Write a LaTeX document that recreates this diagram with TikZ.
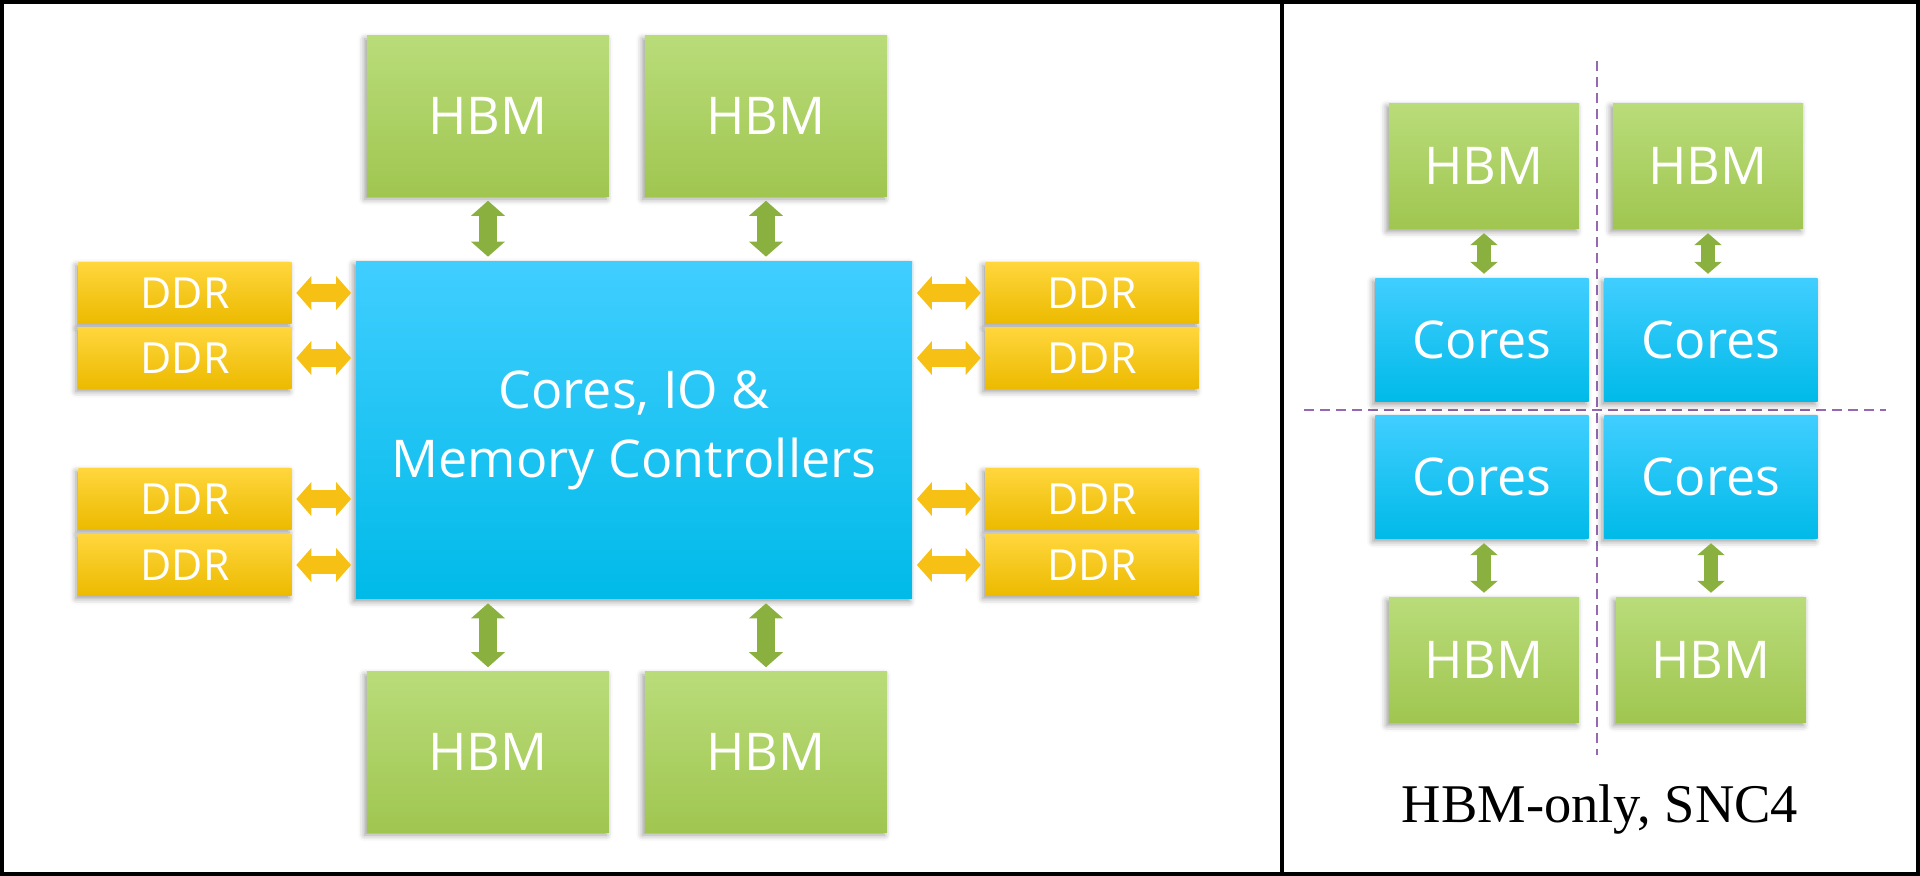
\documentclass[tikz,border=0pt]{standalone}
\usepackage{fontspec}
\setmainfont{Open Sans}
\newfontfamily\capfont{Liberation Serif}
\usetikzlibrary{arrows.meta,shadows.blur}
\definecolor{hbmtop}{HTML}{B9DC7A}\definecolor{hbmbot}{HTML}{A0C650}
\definecolor{coretop}{HTML}{40CEFF}\definecolor{corebot}{HTML}{00BAE8}
\definecolor{ddrtop}{HTML}{FFD63C}\definecolor{ddrbot}{HTML}{ECBA00}
\definecolor{agreen}{HTML}{8AB040}\definecolor{ayellow}{HTML}{F7C014}
\definecolor{sncline}{HTML}{9668B4}
\begin{document}
\begin{tikzpicture}[x=0.01cm,y=-0.01cm,
 box/.style={inner sep=0pt,text=white,align=center,font=\fontsize{14.8}{19.6}\selectfont,
  blur shadow={shadow xshift=-0.025cm,shadow yshift=-0.03cm,shadow blur radius=0.06cm,shadow opacity=40}},
 hbm/.style={box,top color=hbmtop,bottom color=hbmbot,minimum width=2.42cm,minimum height=1.6cm},
 shbm/.style={hbm,minimum width=1.9cm,minimum height=1.25cm},
 chip/.style={box,top color=coretop,bottom color=corebot,minimum width=5.56cm,minimum height=3.37cm},
 schip/.style={chip,minimum width=2.13cm,minimum height=1.23cm},
 ddr/.style={box,top color=ddrtop,bottom color=ddrbot,minimum width=2.13cm,minimum height=0.61cm,font=\fontsize{12.2}{14}\selectfont},
 garrow/.style={draw=agreen,line width=0.18cm,{Triangle[width=0.33cm,length=0.15cm]}-{Triangle[width=0.33cm,length=0.15cm]},shorten <=0.04cm,shorten >=0.04cm},
 sgarrow/.style={garrow,line width=0.14cm,{Triangle[width=0.27cm,length=0.12cm]}-{Triangle[width=0.27cm,length=0.12cm]}},
 yarrow/.style={garrow,draw=ayellow},
 sncsep/.style={draw=sncline,line width=0.02cm,dash pattern=on 0.1cm off 0.06cm}]
\useasboundingbox (0,0) rectangle (1920,876);
\node[hbm] (hbmA) at (488,116) {HBM}; \node[hbm] (hbmB) at (766,116) {HBM};
\node[hbm] (hbmC) at (488,752) {HBM}; \node[hbm] (hbmD) at (766,752) {HBM};
\node[chip] (core) at (634,430) {Cores, IO \&\\Memory Controllers};
\node[ddr] (ddrA) at (185,293) {DDR}; \node[ddr] (ddrB) at (185,358) {DDR};
\node[ddr] (ddrC) at (185,499) {DDR}; \node[ddr] (ddrD) at (185,565) {DDR};
\node[ddr] (ddrE) at (1092,293) {DDR}; \node[ddr] (ddrF) at (1092,358) {DDR};
\node[ddr] (ddrG) at (1092,499) {DDR}; \node[ddr] (ddrH) at (1092,565) {DDR};
\draw[garrow] (hbmA.south) -- (hbmA.south |- core.north); \draw[garrow] (hbmB.south) -- (hbmB.south |- core.north);
\draw[garrow] (hbmC.north |- core.south) -- (hbmC.north); \draw[garrow] (hbmD.north |- core.south) -- (hbmD.north);
\foreach \d in {ddrA,ddrB,ddrC,ddrD} \draw[yarrow] (\d.east) -- (\d.east -| core.west);
\foreach \d in {ddrE,ddrF,ddrG,ddrH} \draw[yarrow] (\d.west -| core.east) -- (\d.west);
\draw[sncsep] (1597,61) -- (1597,755); \draw[sncsep] (1304,410) -- (1886,410);
\node[shbm] (hbmE) at (1484,166) {HBM}; \node[shbm] (hbmF) at (1708,166) {HBM};
\node[schip] (coreA) at (1482,340) {Cores}; \node[schip] (coreB) at (1711,340) {Cores};
\node[schip] (coreC) at (1482,477) {Cores}; \node[schip] (coreD) at (1711,477) {Cores};
\node[shbm] (hbmG) at (1484,660) {HBM}; \node[shbm] (hbmH) at (1711,660) {HBM};
\draw[sgarrow] (hbmE.south) -- (hbmE.south |- coreA.north); \draw[sgarrow] (hbmF.south) -- (hbmF.south |- coreB.north);
\draw[sgarrow] (hbmG.north |- coreC.south) -- (hbmG.north); \draw[sgarrow] (hbmH.north |- coreD.south) -- (hbmH.north);
\node[anchor=base,font=\capfont\fontsize{15.5}{18}\selectfont] (cap) at (1600,822) {HBM-only, SNC4};
\draw[line width=0.04cm] (2,2) rectangle (1918,874); \draw[line width=0.035cm] (1282,2) -- (1282,874);
\end{tikzpicture}
\end{document}
